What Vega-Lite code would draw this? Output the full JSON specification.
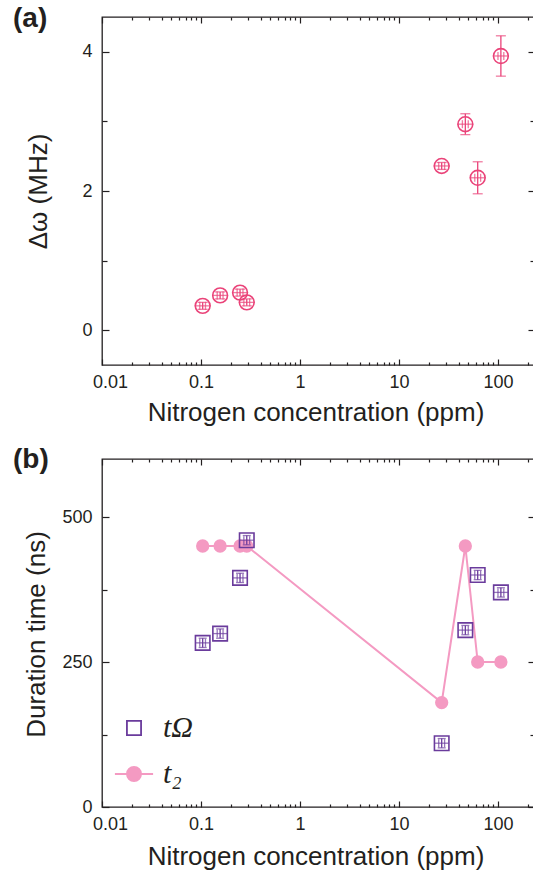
{
  "$schema": "https://vega.github.io/schema/vega-lite/v6.json",
  "background": "white",
  "padding": {"left": 12, "top": 4, "right": 0, "bottom": 0},
  "bounds": "flush",
  "spacing": 94,
  "config": {
    "view": {"stroke": "#231F20", "strokeWidth": 1.3},
    "font": "Liberation Sans",
    "axis": {
      "grid": false,
      "domain": false,
      "tickColor": "#231F20",
      "tickWidth": 1.2,
      "labelFont": "Liberation Sans",
      "labelFontSize": 18,
      "labelColor": "#231F20",
      "titleFont": "Liberation Sans",
      "titleFontSize": 26,
      "titleFontWeight": "normal",
      "titleColor": "#231F20",
      "labelOverlap": false,
      "labelFlush": false
    }
  },
  "datasets": {
    "a": [
      {"n": 0.104, "nlo": 0.0972, "nhi": 0.111, "dw": 0.35, "lo": 0.30, "hi": 0.40},
      {"n": 0.156, "nlo": 0.1458, "nhi": 0.167, "dw": 0.50, "lo": 0.45, "hi": 0.55},
      {"n": 0.248, "nlo": 0.2318, "nhi": 0.2654, "dw": 0.54, "lo": 0.49, "hi": 0.59},
      {"n": 0.29, "nlo": 0.271, "nhi": 0.31, "dw": 0.40, "lo": 0.35, "hi": 0.45},
      {"n": 27, "nlo": 25.2, "nhi": 28.9, "dw": 2.36, "lo": 2.31, "hi": 2.41},
      {"n": 46.8, "nlo": 43.7, "nhi": 50.1, "dw": 2.96, "lo": 2.81, "hi": 3.11},
      {"n": 62.4, "nlo": 58.3, "nhi": 66.8, "dw": 2.19, "lo": 1.96, "hi": 2.42},
      {"n": 107, "nlo": 100, "nhi": 114.5, "dw": 3.94, "lo": 3.65, "hi": 4.23}
    ],
    "omega": [
      {"s": "omega", "n": 0.104, "nlo": 0.0972, "nhi": 0.111, "t": 283, "lo": 275, "hi": 291},
      {"s": "omega", "n": 0.156, "nlo": 0.1458, "nhi": 0.167, "t": 299, "lo": 291, "hi": 307},
      {"s": "omega", "n": 0.248, "nlo": 0.2318, "nhi": 0.2654, "t": 395, "lo": 387, "hi": 403},
      {"s": "omega", "n": 0.29, "nlo": 0.271, "nhi": 0.31, "t": 460, "lo": 452, "hi": 468},
      {"s": "omega", "n": 27, "nlo": 25.2, "nhi": 28.9, "t": 110, "lo": 102, "hi": 118},
      {"s": "omega", "n": 46.8, "nlo": 43.7, "nhi": 50.1, "t": 305, "lo": 297, "hi": 313},
      {"s": "omega", "n": 62.4, "nlo": 58.3, "nhi": 66.8, "t": 400, "lo": 392, "hi": 408},
      {"s": "omega", "n": 107, "nlo": 100, "nhi": 114.5, "t": 370, "lo": 362, "hi": 378}
    ],
    "t2": [
      {"s": "two", "n": 0.104, "t": 450},
      {"s": "two", "n": 0.156, "t": 450},
      {"s": "two", "n": 0.248, "t": 450},
      {"s": "two", "n": 0.29, "t": 450},
      {"s": "two", "n": 27, "t": 180},
      {"s": "two", "n": 46.8, "t": 450},
      {"s": "two", "n": 62.4, "t": 250},
      {"s": "two", "n": 107, "t": 250}
    ]
  },
  "vconcat": [
    {
      "width": 433,
      "height": 348,
      "title": {"text": "(a)", "anchor": "start", "frame": "group", "fontSize": 28, "fontWeight": "bold", "font": "Liberation Sans", "color": "#231F20", "dx": -89, "dy": 10, "offset": -29, "baseline": "alphabetic"},
      "data": {"name": "a"},
      "resolve": {"axis": {"x": "independent", "y": "independent"}},
      "layer": [
        {
          "mark": {"type": "rule", "color": "#EA4379", "strokeWidth": 1.3},
          "encoding": {
            "x": {"field": "n", "type": "quantitative", "scale": {"type": "log", "domain": [0.01, 236.6], "nice": false},
              "axis": {"orient": "bottom", "values": [0.01, 0.1, 1, 10, 100], "format": "~g", "offset": -6, "tickSize": 6,
                "labelOffset": {"condition": {"test": "datum.value < 0.02", "value": 8}, "value": 0},
                "labelPadding": 8, "title": "Nitrogen concentration (ppm)", "titleBaseline": "alphabetic", "titleY": 61, "titleX": 213.5}},
            "y": {"field": "lo", "type": "quantitative", "scale": {"domain": [-0.5, 4.5], "nice": false, "zero": false},
              "axis": {"orient": "left", "values": [0, 2, 4], "offset": -7, "tickSize": 7,
                "labelPadding": 10, "title": "Δω (MHz)", "titleX": -71, "titleY": 174, "titleBaseline": "middle", "titleAngle": -90}},
            "y2": {"field": "hi"}
          }
        },
        {
          "mark": {"type": "tick", "orient": "horizontal", "size": 10, "thickness": 1.3, "color": "#EA4379"},
          "encoding": {
            "x": {"field": "n", "type": "quantitative", "scale": {"type": "log", "domain": [0.01, 236.6], "nice": false},
              "axis": {"orient": "top", "values": [0.01, 0.1, 1, 10, 100], "labels": false, "title": null, "offset": -6, "tickSize": 6}},
            "y": {"field": "lo", "type": "quantitative", "scale": {"domain": [-0.5, 4.5], "nice": false, "zero": false},
              "axis": {"orient": "right", "values": [0, 2, 4], "labels": false, "title": null, "offset": -7, "tickSize": 7}}
          }
        },
        {
          "mark": {"type": "tick", "orient": "horizontal", "size": 10, "thickness": 1.3, "color": "#EA4379"},
          "encoding": {
            "x": {"field": "n", "type": "quantitative", "scale": {"type": "log", "domain": [0.01, 236.6], "nice": false},
              "axis": {"orient": "bottom", "values": [0.02,0.03,0.04,0.05,0.06,0.07,0.08,0.09,0.2,0.3,0.4,0.5,0.6,0.7,0.8,0.9,2,3,4,5,6,7,8,9,20,30,40,50,60,70,80,90,200], "labels": false, "title": null, "offset": -3, "tickSize": 3}},
            "y": {"field": "hi", "type": "quantitative", "scale": {"domain": [-0.5, 4.5], "nice": false, "zero": false},
              "axis": {"orient": "left", "values": [1, 3], "labels": false, "title": null, "offset": -5, "tickSize": 5}}
          }
        },
        {
          "mark": {"type": "tick", "orient": "vertical", "size": 8, "thickness": 1.3, "color": "#EA4379"},
          "encoding": {
            "x": {"field": "nlo", "type": "quantitative", "scale": {"type": "log", "domain": [0.01, 236.6], "nice": false},
              "axis": {"orient": "top", "values": [0.02,0.03,0.04,0.05,0.06,0.07,0.08,0.09,0.2,0.3,0.4,0.5,0.6,0.7,0.8,0.9,2,3,4,5,6,7,8,9,20,30,40,50,60,70,80,90,200], "labels": false, "title": null, "offset": -3, "tickSize": 3}},
            "y": {"field": "dw", "type": "quantitative", "scale": {"domain": [-0.5, 4.5], "nice": false, "zero": false},
              "axis": {"orient": "right", "values": [1, 3], "labels": false, "title": null, "offset": -5, "tickSize": 5}}
          }
        },
        {
          "mark": {"type": "tick", "orient": "vertical", "size": 8, "thickness": 1.3, "color": "#EA4379"},
          "encoding": {
            "x": {"field": "nhi", "type": "quantitative", "scale": {"type": "log", "domain": [0.01, 236.6], "nice": false}, "axis": null},
            "y": {"field": "dw", "type": "quantitative", "scale": {"domain": [-0.5, 4.5], "nice": false, "zero": false}, "axis": null}
          }
        },
        {
          "mark": {"type": "tick", "orient": "horizontal", "size": 16, "thickness": 1.3, "color": "#EA4379"},
          "encoding": {
            "x": {"field": "n", "type": "quantitative", "scale": {"type": "log", "domain": [0.01, 236.6], "nice": false}, "axis": null},
            "y": {"field": "dw", "type": "quantitative", "scale": {"domain": [-0.5, 4.5], "nice": false, "zero": false}, "axis": null}
          }
        },
        {
          "mark": {"type": "point", "shape": "circle", "filled": false, "color": "#EA4379", "strokeWidth": 1.6, "size": 219, "opacity": 1},
          "encoding": {
            "x": {"field": "n", "type": "quantitative", "scale": {"type": "log", "domain": [0.01, 236.6], "nice": false}, "axis": null},
            "y": {"field": "dw", "type": "quantitative", "scale": {"domain": [-0.5, 4.5], "nice": false, "zero": false}, "axis": null}
          }
        }
      ]
    },
    {
      "width": 433,
      "height": 348,
      "title": {"text": "(b)", "anchor": "start", "frame": "group", "fontSize": 28, "fontWeight": "bold", "font": "Liberation Sans", "color": "#231F20", "dx": -89, "dy": 9, "offset": -29, "baseline": "alphabetic"},
      "data": {"name": "omega"},
      "resolve": {"axis": {"x": "independent", "y": "independent"}},
      "layer": [
        {
          "data": {"name": "t2"},
          "mark": {"type": "line", "color": "#F49AC2", "strokeWidth": 2},
          "encoding": {
            "x": {"field": "n", "type": "quantitative", "scale": {"type": "log", "domain": [0.01, 236.6], "nice": false},
              "axis": {"orient": "bottom", "values": [0.01, 0.1, 1, 10, 100], "format": "~g", "offset": -6, "tickSize": 6,
                "labelOffset": {"condition": {"test": "datum.value < 0.02", "value": 8}, "value": 0},
                "labelPadding": 8, "title": "Nitrogen concentration (ppm)", "titleBaseline": "alphabetic", "titleY": 63, "titleX": 213.5}},
            "y": {"field": "t", "type": "quantitative", "scale": {"domain": [0, 600], "nice": false},
              "axis": {"orient": "left", "values": [0, 250, 500], "offset": -7, "tickSize": 7,
                "labelPadding": 10, "title": "Duration time (ns)", "titleX": -73, "titleY": 175, "titleBaseline": "middle", "titleAngle": -90}}
          }
        },
        {
          "data": {"name": "t2"},
          "mark": {"type": "point", "shape": "circle", "filled": true, "color": "#F49AC2", "size": 177, "opacity": 1},
          "encoding": {
            "x": {"field": "n", "type": "quantitative", "scale": {"type": "log", "domain": [0.01, 236.6], "nice": false},
              "axis": {"orient": "top", "values": [0.01, 0.1, 1, 10, 100], "labels": false, "title": null, "offset": -6, "tickSize": 6}},
            "y": {"field": "t", "type": "quantitative", "scale": {"domain": [0, 600], "nice": false},
              "axis": {"orient": "right", "values": [0, 250, 500], "labels": false, "title": null, "offset": -7, "tickSize": 7}}
          }
        },
        {
          "mark": {"type": "rule", "color": "#6A3B9C", "strokeWidth": 1.3},
          "encoding": {
            "x": {"field": "n", "type": "quantitative", "scale": {"type": "log", "domain": [0.01, 236.6], "nice": false},
              "axis": {"orient": "bottom", "values": [0.02,0.03,0.04,0.05,0.06,0.07,0.08,0.09,0.2,0.3,0.4,0.5,0.6,0.7,0.8,0.9,2,3,4,5,6,7,8,9,20,30,40,50,60,70,80,90,200], "labels": false, "title": null, "offset": -3, "tickSize": 3}},
            "y": {"field": "lo", "type": "quantitative", "scale": {"domain": [0, 600], "nice": false},
              "axis": {"orient": "left", "values": [125, 375], "labels": false, "title": null, "offset": -5, "tickSize": 5}},
            "y2": {"field": "hi"}
          }
        },
        {
          "mark": {"type": "tick", "orient": "horizontal", "size": 8, "thickness": 1.3, "color": "#6A3B9C"},
          "encoding": {
            "x": {"field": "n", "type": "quantitative", "scale": {"type": "log", "domain": [0.01, 236.6], "nice": false},
              "axis": {"orient": "top", "values": [0.02,0.03,0.04,0.05,0.06,0.07,0.08,0.09,0.2,0.3,0.4,0.5,0.6,0.7,0.8,0.9,2,3,4,5,6,7,8,9,20,30,40,50,60,70,80,90,200], "labels": false, "title": null, "offset": -3, "tickSize": 3}},
            "y": {"field": "lo", "type": "quantitative", "scale": {"domain": [0, 600], "nice": false},
              "axis": {"orient": "right", "values": [125, 375], "labels": false, "title": null, "offset": -5, "tickSize": 5}}
          }
        },
        {
          "mark": {"type": "tick", "orient": "horizontal", "size": 8, "thickness": 1.3, "color": "#6A3B9C"},
          "encoding": {
            "x": {"field": "n", "type": "quantitative", "scale": {"type": "log", "domain": [0.01, 236.6], "nice": false}, "axis": null},
            "y": {"field": "hi", "type": "quantitative", "scale": {"domain": [0, 600], "nice": false}, "axis": null}
          }
        },
        {
          "mark": {"type": "tick", "orient": "vertical", "size": 8, "thickness": 1.3, "color": "#6A3B9C"},
          "encoding": {
            "x": {"field": "nlo", "type": "quantitative", "scale": {"type": "log", "domain": [0.01, 236.6], "nice": false}, "axis": null},
            "y": {"field": "t", "type": "quantitative", "scale": {"domain": [0, 600], "nice": false}, "axis": null}
          }
        },
        {
          "mark": {"type": "tick", "orient": "vertical", "size": 8, "thickness": 1.3, "color": "#6A3B9C"},
          "encoding": {
            "x": {"field": "nhi", "type": "quantitative", "scale": {"type": "log", "domain": [0.01, 236.6], "nice": false}, "axis": null},
            "y": {"field": "t", "type": "quantitative", "scale": {"domain": [0, 600], "nice": false}, "axis": null}
          }
        },
        {
          "mark": {"type": "tick", "orient": "horizontal", "size": 14, "thickness": 1.3, "color": "#6A3B9C"},
          "encoding": {
            "x": {"field": "n", "type": "quantitative", "scale": {"type": "log", "domain": [0.01, 236.6], "nice": false}, "axis": null},
            "y": {"field": "t", "type": "quantitative", "scale": {"domain": [0, 600], "nice": false}, "axis": null}
          }
        },
        {
          "mark": {"type": "point", "filled": false, "strokeWidth": 1.6, "size": 210, "opacity": 1},
          "encoding": {
            "x": {"field": "n", "type": "quantitative", "scale": {"type": "log", "domain": [0.01, 236.6], "nice": false}, "axis": null},
            "y": {"field": "t", "type": "quantitative", "scale": {"domain": [0, 600], "nice": false}, "axis": null},
            "shape": {"field": "s", "type": "nominal", "scale": {"domain": ["omega", "two"], "range": ["square", "M-2.7,0L2.7,0M-1,0A1,1 0 1,1 1,0A1,1 0 1,1 -1,0Z"]},
              "legend": {"orient": "none", "legendX": 17, "legendY": 696, "title": null, "padding": 0, "symbolSize": 200, "symbolStrokeWidth": 1.8,
                "labelFont": "Liberation Serif", "labelFontStyle": "italic", "labelFontSize": 30, "labelColor": "#231F20", "labelOffset": 14, "rowPadding": 16,
                "labelExpr": "datum.value === 'omega' ? 'tΩ' : 't₂'"}},
            "stroke": {"field": "s", "type": "nominal", "scale": {"domain": ["omega", "two"], "range": ["#6A3B9C", "#F49AC2"]},
              "legend": {"orient": "none", "legendX": 17, "legendY": 696, "title": null, "padding": 0, "symbolSize": 200, "symbolStrokeWidth": 1.8,
                "labelFont": "Liberation Serif", "labelFontStyle": "italic", "labelFontSize": 30, "labelColor": "#231F20", "labelOffset": 14, "rowPadding": 16,
                "labelExpr": "datum.value === 'omega' ? 'tΩ' : 't₂'"}},
            "fill": {"field": "s", "type": "nominal", "scale": {"domain": ["omega", "two"], "range": ["transparent", "#F49AC2"]},
              "legend": {"orient": "none", "legendX": 17, "legendY": 696, "title": null, "padding": 0, "symbolSize": 200, "symbolStrokeWidth": 1.8,
                "labelFont": "Liberation Serif", "labelFontStyle": "italic", "labelFontSize": 30, "labelColor": "#231F20", "labelOffset": 14, "rowPadding": 16,
                "labelExpr": "datum.value === 'omega' ? 'tΩ' : 't₂'"}}
          }
        }
      ]
    }
  ]
}
